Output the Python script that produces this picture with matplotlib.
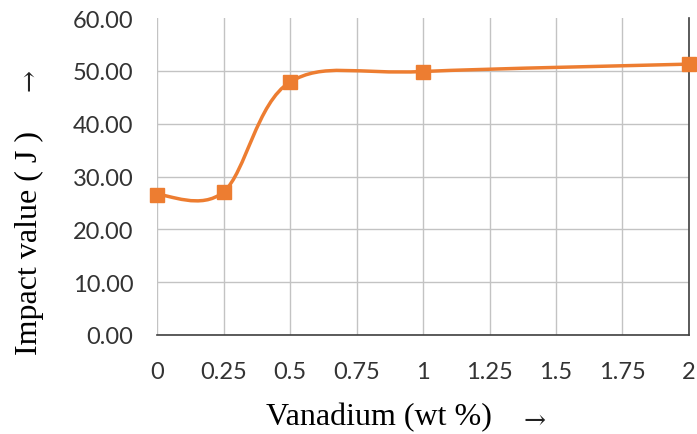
import numpy as np
import matplotlib
matplotlib.use("Agg")
import matplotlib.pyplot as plt
from matplotlib.path import Path
from matplotlib.patches import PathPatch

# data
vanadium = [0, 0.25, 0.5, 1, 2]
impact = [26.6, 27.1, 47.9, 49.9, 51.3]

x_ticks = [0, 0.25, 0.5, 0.75, 1, 1.25, 1.5, 1.75, 2]
x_tick_labels = ["0", "0.25", "0.5", "0.75", "1", "1.25", "1.5", "1.75", "2"]
y_ticks = [0, 10, 20, 30, 40, 50, 60]

ORANGE = "#ED7D31"
GRID = "#c3c3c3"
TICK_FONT = ["Lato", "DejaVu Sans"]
TITLE_FONT = ["Liberation Serif", "DejaVu Serif"]
ARROW_FONT = ["DejaVu Serif"]


def smooth_path(xs, ys):
    # excel style smoothed line: catmull-rom turned into cubic beziers
    pts = np.column_stack([xs, ys]).astype(float)
    n = len(pts)
    verts = [pts[0]]
    codes = [Path.MOVETO]
    for i in range(n - 1):
        p0 = pts[max(i - 1, 0)]
        p1 = pts[i]
        p2 = pts[i + 1]
        p3 = pts[min(i + 2, n - 1)]
        c1 = p1 + (p2 - p0) / 6.0
        c2 = p2 - (p3 - p1) / 6.0
        verts += [c1, c2, p2]
        codes += [Path.CURVE4] * 3
    return Path(verts, codes)


fig = plt.figure(figsize=(6.97, 4.35), dpi=100)
ax = fig.add_axes([0.2253, 0.2276, 0.9885 - 0.2253, 0.9559 - 0.2276])

ax.set_xlim(0, 2)
ax.set_ylim(0, 60)
ax.set_xticks(x_ticks)
ax.set_xticklabels(x_tick_labels)
ax.set_yticks(y_ticks)
ax.set_yticklabels([f"{v:.2f}" for v in y_ticks])

ax.grid(True, color=GRID, linewidth=1.0)
ax.set_axisbelow(True)
ax.yaxis.get_gridlines()[-1].set_visible(False)

for side in ["top", "left"]:
    ax.spines[side].set_visible(False)
ax.spines["bottom"].set_color("#404040")
ax.spines["right"].set_color("#404040")
ax.spines["bottom"].set_linewidth(1.2)
ax.spines["right"].set_linewidth(1.2)

ax.tick_params(length=0, labelsize=17, colors="#333333")
ax.tick_params(axis="x", pad=19)
ax.tick_params(axis="y", pad=17)
for lab in ax.get_xticklabels() + ax.get_yticklabels():
    lab.set_family(TICK_FONT)

patch = PathPatch(smooth_path(vanadium, impact), facecolor="none",
                  edgecolor=ORANGE, linewidth=2.5, clip_on=False, zorder=3)
ax.add_patch(patch)
ax.plot(vanadium, impact, linestyle="none", marker="s", markersize=9.5,
        color=ORANGE, clip_on=False, zorder=4)

# axis titles with their arrows
ax.text(0.417, -0.281, "Vanadium (wt %)", transform=ax.transAxes, ha="center",
        va="baseline", fontsize=23, family=TITLE_FONT)
ax.text(0.709, -0.265, "\u2192", transform=ax.transAxes, ha="center",
        va="center", fontsize=19, family=ARROW_FONT, color="#222222")
ax.text(-0.2406, 0.295, "Impact value ( J )", transform=ax.transAxes, ha="center",
        va="center", rotation=90, fontsize=23, family=TITLE_FONT)
ax.text(-0.2406, 0.808, "\u2192", transform=ax.transAxes, ha="center",
        va="center", rotation=90, fontsize=19, family=ARROW_FONT, color="#222222")

fig.savefig("out.png", dpi=100)
